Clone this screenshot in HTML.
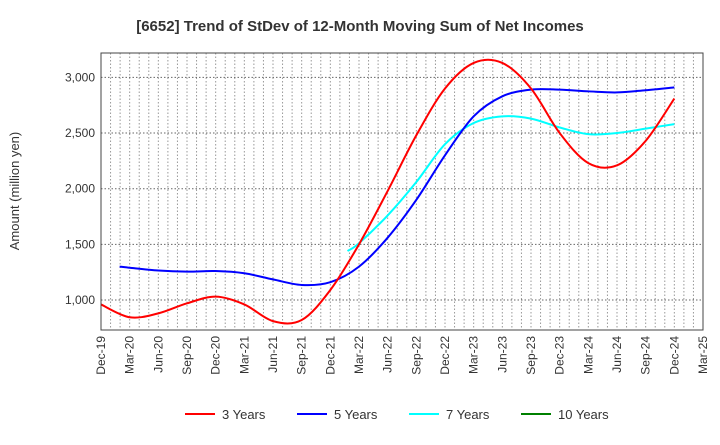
<!DOCTYPE html>
<html><head><meta charset="utf-8"><style>
body{margin:0;background:#fff;font-family:"Liberation Sans",sans-serif}
svg text{font-family:"Liberation Sans",sans-serif}
</style></head><body>
<svg width="720" height="440" xmlns="http://www.w3.org/2000/svg">
<text x="360" y="31" text-anchor="middle" font-size="15" font-weight="bold" fill="#333">[6652]  Trend of StDev of 12-Month Moving Sum of Net Incomes</text>
<g id="grid"></g>
<g id="series"></g>
<rect x="101" y="53" width="602" height="277" fill="none" stroke="#444"/>
<text transform="translate(19,191) rotate(-90)" text-anchor="middle" font-size="13" fill="#333">Amount (million yen)</text>
<g id="legend"></g>
</svg>
<script>
const quarters=["Dec-19","Mar-20","Jun-20","Sep-20","Dec-20","Mar-21","Jun-21","Sep-21","Dec-21","Mar-22","Jun-22","Sep-22","Dec-22","Mar-23","Jun-23","Sep-23","Dec-23","Mar-24","Jun-24","Sep-24","Dec-24","Mar-25"];
const yTicks=[1000,1500,2000,2500,3000];
const redX=[0,1,2,3,4,5,6,7,8,9,10,11,12,13,14,15,16,17,18,19,20];
const red=[960,845,880,970,1030,960,810,820,1090,1500,1980,2480,2900,3130,3130,2900,2500,2230,2210,2430,2810];
const blueX=[0.65,1,2,3,4,5,6,7,8,9,10,11,12,13,14,15,16,17,18,19,20];
const blue=[1300,1290,1265,1255,1260,1240,1185,1135,1160,1300,1560,1900,2300,2650,2830,2890,2890,2875,2865,2885,2910];
const cyanX=[8.6,9,10,11,12,13,14,15,16,17,18,19,20];
const cyan=[1440,1510,1760,2060,2400,2590,2650,2630,2550,2490,2500,2540,2580];
const greenX=[];
const green=[];
const NS="http://www.w3.org/2000/svg";
const X0=101,X1=703,Y0=53,Y1=330;
const xq=q=>X0+q*(X1-X0)/21;
const yv=v=>300-(v-1000)*0.1113;
function mk(t,a,p){const e=document.createElementNS(NS,t);for(const k in a)e.setAttribute(k,a[k]);p.appendChild(e);return e;}
const grid=document.getElementById('grid');
for(let m=1;m<63;m++){const x=X0+m*(X1-X0)/63;
const l=mk('line',{x1:x,x2:x,y1:Y0,y2:Y1,stroke:'#999','stroke-dasharray':'1.5,2','stroke-width':1},grid);

}
yTicks.forEach(v=>{const y=yv(v);
const l=mk('line',{x1:X0,x2:X1,y1:y,y2:y,stroke:'#666','stroke-dasharray':'1.5,2'},grid);


const t=mk('text',{x:X0-6,y:y+4,'text-anchor':'end','font-size':12,fill:'#333'},grid);t.textContent=v.toLocaleString('en-US');

});
quarters.forEach((q,i)=>{const x=xq(i);
const t=mk('text',{transform:`translate(${x+4},${Y1+6}) rotate(-90)`,'text-anchor':'end','font-size':12,fill:'#333'},grid);t.textContent=q;

});
function path(xs,arr){const pts=arr.map((v,i)=>[xq(xs[i]),yv(v)]);
if(pts.length<2)return '';let d=`M${pts[0][0]},${pts[0][1]}`;
for(let i=0;i<pts.length-1;i++){const p0=pts[i-1]||pts[i],p1=pts[i],p2=pts[i+1],p3=pts[i+2]||p2;
d+=` C${p1[0]+(p2[0]-p0[0])/6},${p1[1]+(p2[1]-p0[1])/6} ${p2[0]-(p3[0]-p1[0])/6},${p2[1]-(p3[1]-p1[1])/6} ${p2[0]},${p2[1]}`;}return d;}
const S=document.getElementById('series');
[[cyanX,cyan,'#00ffff','series-7-years'],[blueX,blue,'#0000ff','series-5-years'],[redX,red,'#ff0000','series-3-years'],[greenX,green,'#008000','series-10-years']].forEach(([xs,a,c,n])=>{
const d=path(xs,a);if(!d)return;const p=mk('path',{d:d,fill:'none',stroke:c,'stroke-width':2},S);

});
const L=document.getElementById('legend');
[['3 Years','#ff0000',185],['5 Years','#0000ff',297],['7 Years','#00ffff',409],['10 Years','#008000',521]].forEach(([lab,c,x])=>{
const g=mk('g',{},L);


mk('line',{x1:x,x2:x+30,y1:414,y2:414,stroke:c,'stroke-width':2},g);
const t=mk('text',{x:x+37,y:419,'font-size':13,fill:'#333'},g);t.textContent=lab;});
</script>
</body></html>
